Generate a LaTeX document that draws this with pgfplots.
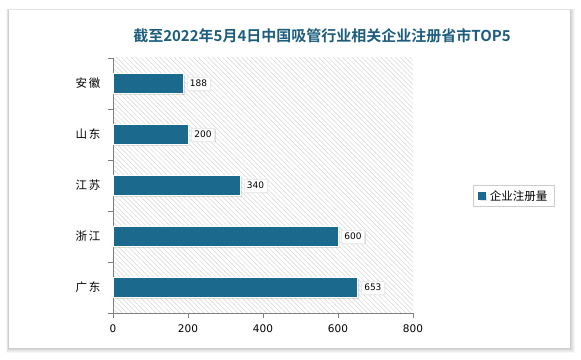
\documentclass[border=0pt]{standalone}
\usepackage{pgfplots}
\pgfplotsset{compat=1.18}
\usepackage{fontspec}
\setmainfont{DejaVu Sans}
\newfontfamily\cjk{Noto Sans CJK SC}
\newfontfamily\cjkb{Noto Sans CJK SC Bold}
\usetikzlibrary{patterns.meta,shadows}
\definecolor{barc}{HTML}{1B6A8E}
\definecolor{titc}{HTML}{1D5E7E}
\begin{document}
\begin{tikzpicture}[x=1pt,y=1pt]
% page background
\fill[white] (0,0) rectangle (581,359);
% card shadow
\foreach \i/\c in {5/6,4/10,3/14,2/18,1/24}{
  \fill[black!\c,opacity=0.5] (9-\i*0.6,11-\i) rectangle (570+\i,349+\i*0.2);
}
\fill[white] (9,11) rectangle (570,349);
\path[use as bounding box] (0,0) rectangle (581,359);
% title
\node[font=\cjkb\fontsize{15}{15}\selectfont, text=titc] at (322,323) {截至2022年5月4日中国吸管行业相关企业注册省市TOP5};
\begin{axis}[
  at={(113pt,46pt)}, anchor=south west,
  scale only axis, width=300pt, height=255pt,
  xbar, bar width=20pt,
  xmin=0, xmax=800,
  ymin=-0.5, ymax=4.5,
  xtick={0,200,400,600,800},
  ytick={0,1,2,3,4},
  yticklabels={广\,东,浙\,江,江\,苏,山\,东,安\,徽},
  yticklabel style={font=\cjk\fontsize{11.5}{11.5}\selectfont, xshift=-4pt},
  xticklabel style={font=\fontsize{10.5}{10.5}\selectfont, yshift=-3pt},
  /pgf/number format/assume math mode=true,
  minor ytick={-0.5,0.5,1.5,2.5,3.5,4.5},
  major y tick style={draw=none},
  minor tick length=5pt,
  major tick length=5pt,
  tick align=outside,
  tick style={gray, line width=0.8pt},
  axis x line*=bottom, axis y line*=left,
  axis line style={gray, line width=0.8pt, -},
  axis background/.style={pattern={Lines[angle=-45,distance=3.4pt,line width=0.5pt]}, pattern color=black!16},
  nodes near coords,
  every node near coord/.append style={font=\fontsize{9}{9}\selectfont, fill=white, draw=black!8, inner sep=3pt, drop shadow={shadow xshift=1pt, shadow yshift=-1pt, opacity=0.3}, anchor=west, xshift=3pt},
  legend style={at={(1.2,0.459)}, anchor=west, draw=black!20, font=\cjk\fontsize{11.5}{11.5}\selectfont, inner xsep=5pt, inner ysep=3pt},
  legend image code/.code={\fill[barc] (0pt,-3.5pt) rectangle (7pt,3.5pt);},
]
\addplot[fill=barc, draw=white, line width=0.8pt, drop shadow={shadow xshift=1.5pt, shadow yshift=-1.5pt, opacity=0.25}] coordinates {(653,0) (600,1) (340,2) (200,3) (188,4)};
\legend{\,企业注册量}
\end{axis}
\end{tikzpicture}
\end{document}
